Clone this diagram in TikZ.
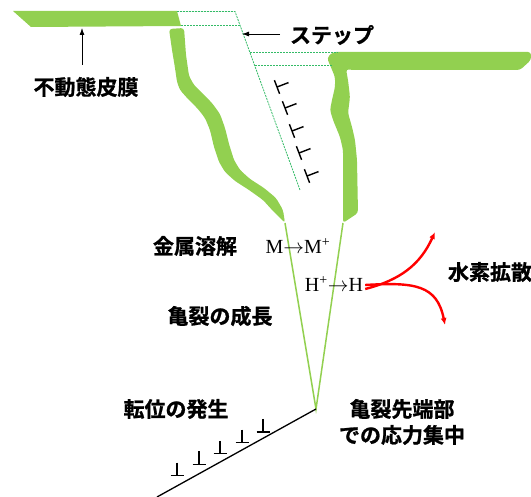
\documentclass[tikz,border=0pt]{standalone}
\usepackage{fontspec}
\usetikzlibrary{arrows.meta}
\newfontfamily\jpfont[FakeBold=1]{Noto Sans CJK JP Bold}
\newfontfamily\serifchem{Liberation Serif}
\definecolor{film}{HTML}{92D050}
\definecolor{stepline}{HTML}{33BB66}
\definecolor{diffuse}{HTML}{FF0000}
\tikzset{
  jplabel/.style={font=\jpfont\fontsize{21}{23}\selectfont, inner sep=0pt, anchor=center},
  chemlabel/.style={font=\serifchem\fontsize{20}{22}\selectfont, inner sep=0pt, anchor=center},
  filmfill/.style={fill=film, draw=none},
  cracklip/.style={draw=film, line width=1.5pt},
  stepdash/.style={draw=stepline, line width=0.8pt, dash pattern=on 2pt off 1pt},
  pointer/.style={draw=black, line width=0.8pt, -{Latex[length=7pt,width=5pt]}},
  hflow/.style={draw=diffuse, line width=2.4pt, -{Latex[length=7pt,width=6pt]}},
  dislo/.style={draw=black, line width=1.4pt},
  slipline/.style={draw=black, line width=1.3pt}
}
\begin{document}
\begin{tikzpicture}[x=1pt,y=-1pt]
\useasboundingbox (0,0) rectangle (531,497);

% passive film on the left surface
\fill[filmfill] (13,11) -- (177,11) -- (181,26) -- (31,27) -- cycle;
% left crack wall
\fill[filmfill, rounded corners=3pt] (169,29) -- (172,50) -- (175,68) -- (177,82) -- (180,90) -- (188,99)
  -- (198,109) -- (205,118) -- (210,130) -- (214,147) -- (219,162) -- (225,172) -- (235,181)
  -- (249,190) -- (263,200) -- (273,211) -- (285,223)
  -- (283,210) -- (276,198) -- (264,188) -- (250,179) -- (240,170) -- (234,160) -- (229,144)
  -- (225,128) -- (220,114) -- (212,103) -- (202,93) -- (194,85) -- (189,76) -- (186,55)
  -- (184,28) -- cycle;
% right surface film and crack wall
\fill[filmfill, rounded corners=3pt] (343,223) -- (343,200) -- (343,150) -- (340,137) -- (333,120)
  -- (330,110) -- (332,100) -- (335,87) -- (335,77) -- (330,65) -- (327,58) -- (333,52)
  -- (531,52) -- (531,60) -- (520,70) -- (352,70) -- (346,69) -- (348,80) -- (350,97)
  -- (348,113) -- (352,127) -- (355,140) -- (357,160) -- (358,213) -- cycle;

% crack flanks down to the tip
\coordinate (ltip) at (285,223);
\coordinate (rtip) at (343,223);
\coordinate (cracktip) at (316,409);
\draw[cracklip] (ltip) -- (cracktip) -- (rtip);

% slip step traced with dashed lines
\coordinate (s1) at (177,11.5);
\coordinate (s2) at (235,11.5);
\coordinate (s3) at (181,25);
\coordinate (s4) at (240,25);
\coordinate (s5) at (250,52);
\coordinate (s6) at (338,52);
\coordinate (s7) at (255,65);
\coordinate (s8) at (332,65);
\coordinate (s9) at (300,190);
\draw[stepdash] (s1) -- (s2) -- (s9);
\draw[stepdash] (s3) -- (s4);
\draw[stepdash] (s5) -- (s6);
\draw[stepdash] (s7) -- (s8);

% dislocations on the slip plane
\foreach \cx/\cy in {277/87, 285/108, 292/131, 299/153, 307/176} {
  \draw[dislo] (\cx-2.6,\cy-6.8) -- (\cx+2.6,\cy+6.8);
  \draw[dislo] (\cx,\cy) -- (\cx+11.5,\cy-4.4);
}

% emitted dislocations along the slip line from the crack tip
\coordinate (slipend) at (157,497);
\draw[slipline] (cracktip) -- (slipend);
\foreach \dx in {177,199,220,242,263} {
  \pgfmathsetmacro{\by}{409+(316-\dx)*0.547-6-(263-\dx)*0.04}
  \draw[dislo] (\dx,\by-13) -- (\dx,\by);
  \draw[dislo] (\dx-6.5,\by) -- (\dx+6.5,\by);
}

% labels
\node[jplabel] (passive) at (86,87) {不動態皮膜};
\coordinate (filmbottom) at (82,28);
\coordinate (pstart) at (82,65);
\draw[pointer] (pstart) -- (filmbottom);

\node[jplabel] (step) at (332,35) {ステップ};
\coordinate (stepedge) at (242,34);
\coordinate (sstart) at (280,34);
\draw[pointer] (sstart) -- (stepedge);

\node[jplabel] (dissol) at (195,246) {金属溶解};
\node[chemlabel] (mreact) at (298,246) {M$\rightarrow$M\textsuperscript{+}};
\node[chemlabel] (hreact) at (334,284) {H\textsuperscript{+}$\rightarrow$H};
\node[jplabel] (growth) at (220,316) {亀裂の成長};
\node[jplabel] (hdiff) at (490,272) {水素拡散};
\node[jplabel] (dgen) at (176,409) {転位の発生};
\node[jplabel] (tip1) at (402,409) {亀裂先端部};
\node[jplabel] (tip2) at (402,435) {での応力集中};

% hydrogen diffusion paths
\coordinate (hup) at (435,232);
\coordinate (hdown) at (445,325);
\draw[hflow] ([xshift=2pt,yshift=-5pt]hreact.east) .. controls (400,280) and (420,265) .. (hup);
\draw[hflow] ([xshift=2pt,yshift=-1pt]hreact.east) .. controls (415,282) and (437,285) .. (hdown);
\end{tikzpicture}
\end{document}
